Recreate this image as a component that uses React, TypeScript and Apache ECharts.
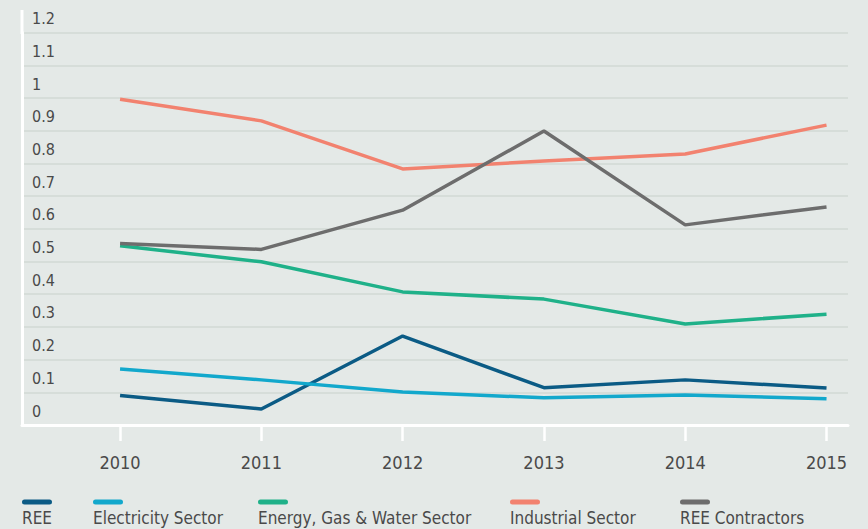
import React, { useEffect, useRef } from "react";
import * as echarts from "echarts";

const years = [2010, 2011, 2012, 2013, 2014, 2015];
const seriesNames = ["REE", "Electricity Sector", "Energy, Gas & Water Sector", "Industrial Sector", "REE Contractors"];
const reeValues = [0.09, 0.049, 0.272, 0.114, 0.138, 0.113];
const electricityValues = [0.171, 0.138, 0.101, 0.083, 0.092, 0.08];
const energyValues = [0.548, 0.499, 0.407, 0.385, 0.309, 0.339];
const industrialValues = [0.996, 0.93, 0.783, 0.807, 0.829, 0.917];
const contractorValues = [0.555, 0.537, 0.657, 0.899, 0.612, 0.667];
const yTicks = [0, 1.2, 0.1];

const colors = ["#0b5b85", "#12a8cc", "#1fb189", "#f2826f", "#6d6d6d"];
const legendLefts = [17, 88, 253, 505, 675];
const FONT = "'Liberation Sans Narrow', 'DejaVu Sans Condensed', sans-serif";

export default function App() {
  const ref = useRef<HTMLDivElement>(null);
  useEffect(() => {
    document.body.style.margin = "0";
    if (!ref.current) return;
    const chart = echarts.init(ref.current, null, { renderer: "svg" });
    const allValues = [reeValues, electricityValues, energyValues, industrialValues, contractorValues];
    const rich: any = {
      t: { fontSize: 17, color: "#4a4a4a", fontFamily: FONT, lineHeight: 22, padding: [4, 0, 0, 0] },
    };
    colors.forEach((c, i) => {
      rich["b" + i] = { width: 30, height: 5, lineHeight: 5, backgroundColor: c, borderRadius: 2.5 };
    });
    chart.setOption({
      animation: false,
      backgroundColor: "#e4e9e7",
      textStyle: { fontFamily: FONT },
      grid: { left: 22, right: 20, top: 32.6, bottom: 104 },
      xAxis: {
        type: "value",
        min: 2009.306,
        max: 2015.152,
        splitLine: { show: false },
        axisLine: { show: true, lineStyle: { color: "#ffffff", width: 3 } },
        axisTick: { show: true, customValues: years, length: 16, lineStyle: { color: "#ffffff", width: 2.5 } },
        axisLabel: {
          customValues: years,
          margin: 28,
          fontSize: 18,
          color: "#4a4a4a",
          fontFamily: FONT,
          formatter: (v: number) => String(Math.round(v)),
        },
      },
      yAxis: {
        type: "value",
        min: yTicks[0],
        max: yTicks[1],
        interval: yTicks[2],
        axisLine: { show: true, lineStyle: { color: "#ffffff", width: 3 } },
        axisTick: { show: false },
        splitLine: { show: true, lineStyle: { color: "#d2d8d5", width: 1.5 } },
        axisLabel: {
          inside: true,
          margin: 10,
          fontSize: 16,
          color: "#4a4a4a",
          fontFamily: FONT,
          verticalAlign: "bottom",
          lineHeight: 16,
          padding: [0, 0, 6, 0],
        },
      },
      legend: seriesNames.map((n, i) => ({
        data: [n],
        left: legendLefts[i],
        top: 496,
        padding: 0,
        itemWidth: 0,
        itemHeight: 0,
        icon: "none",
        selectedMode: false,
        formatter: (name: string) => "{b" + i + "|}\n{t|" + name + "}",
        textStyle: { rich },
      })),
      graphic: [
        { type: "line", shape: { x1: 22, y1: 10, x2: 22, y2: 34 }, style: { stroke: "#ffffff", lineWidth: 3 } },
      ],
      series: seriesNames.map((n, i) => ({
        name: n,
        type: "line",
        symbol: "none",
        data: years.map((y, j) => [y, allValues[i][j]]),
        lineStyle: { color: colors[i], width: 3.5 },
        itemStyle: { color: colors[i] },
      })),
    });
    return () => chart.dispose();
  }, []);
  return <div ref={ref} style={{ width: 868, height: 529 }} />;
}
